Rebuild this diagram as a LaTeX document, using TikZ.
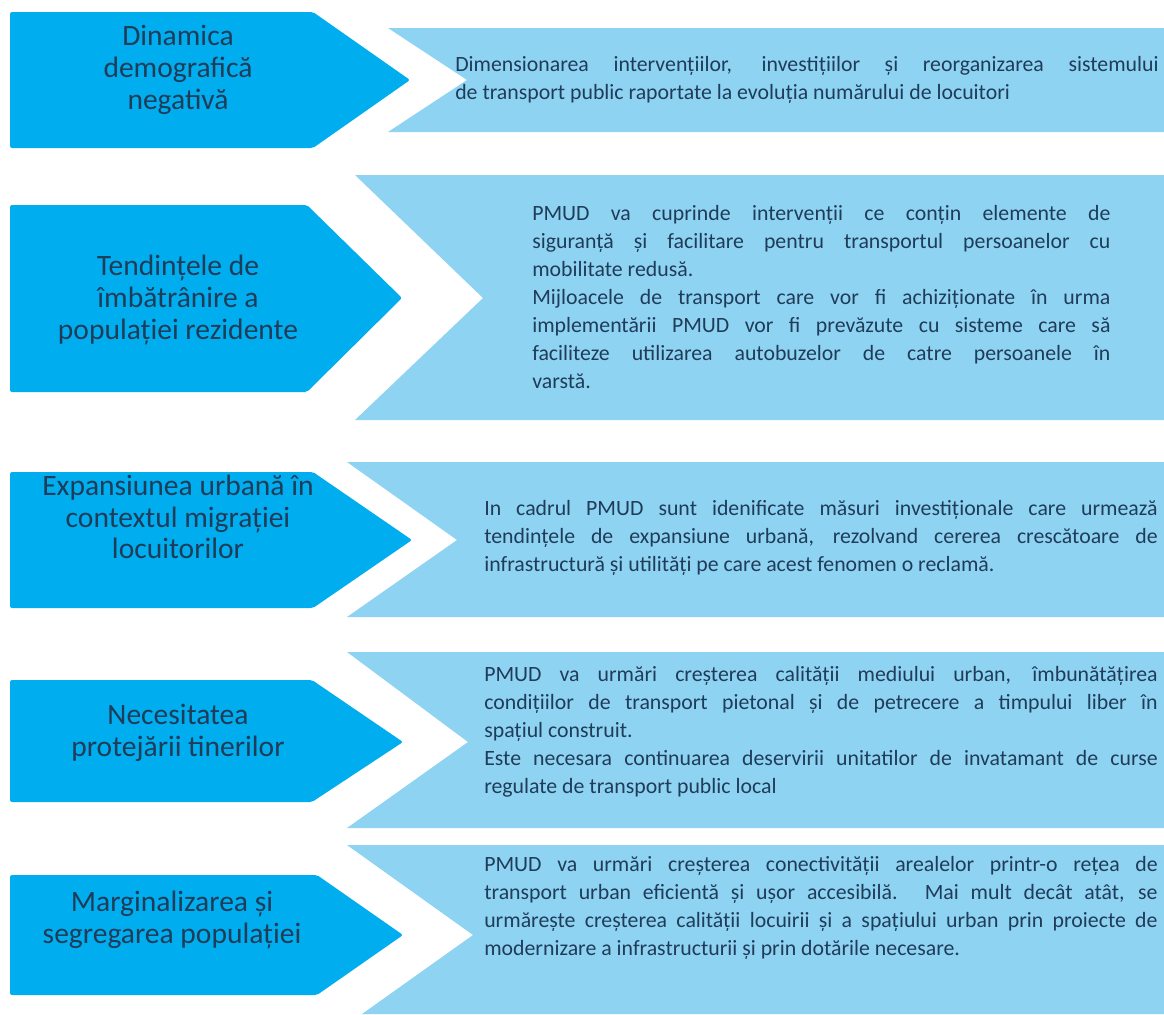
\documentclass[tikz,border=0pt]{standalone}
\usepackage{fontspec}
\setmainfont{Carlito}
\usepackage{tikz}
\definecolor{tipblue}{HTML}{00AEEF}
\definecolor{paneblue}{HTML}{8FD3F3}
\definecolor{ink}{HTML}{1F3C59}
\newcommand\factorfont{\fontsize{21}{22.5}\selectfont}
\newcommand\measurefont{\fontsize{15.5}{19.9}\selectfont}

\begin{document}
\begin{tikzpicture}[x=0.025cm,y=-0.025cm,
    factor/.style={text=ink,align=center,font=\factorfont,inner sep=0pt},
    measure/.style={text=ink,align=justify,anchor=west,inner sep=0pt,font=\measurefont}]
    \useasboundingbox[fill=white] (0,0) rectangle (1164,1014);

    % negative demography
    \fill[tipblue,rounded corners=1.5pt] (10,12) -- (313,12) -- (410,80) -- (313,148) -- (10,148) -- cycle;
    \fill[paneblue] (388,28) -- (1164,28) -- (1164,132) -- (388,132) -- (467,80) -- cycle;
    \path
    (178,70) node[factor] (F1) {Dinamica\\ demografică\\ negativă}
    (455,80) node[measure,text width=17.58cm] (M1) {Dimensionarea intervențiilor, investițiilor și reorganizarea sistemului\linebreak
      de transport public raportate la evoluția numărului de locuitori}
    ;

    % ageing
    \fill[tipblue,rounded corners=1.5pt] (10,205) -- (307,205) -- (402,298) -- (307,392) -- (10,392) -- cycle;
    \fill[paneblue] (355,175) -- (1164,175) -- (1164,420) -- (355,420) -- (483,298) -- cycle;
    \path
    (178,300) node[factor] (F2) {Tendințele de\\ îmbătrânire a\\ populației rezidente}
    (532,297) node[measure,text width=14.45cm] (M2) {PMUD va cuprinde intervenții ce conțin elemente de\linebreak
      siguranță și facilitare pentru transportul persoanelor cu\linebreak
      mobilitate redusă.\\
      Mijloacele de transport care vor fi achiziționate în urma\linebreak
      implementării PMUD vor fi prevăzute cu sisteme care să\linebreak
      faciliteze utilizarea autobuzelor de catre persoanele în\linebreak
      varstă.}
    ;

    % urban sprawl
    \fill[tipblue,rounded corners=1.5pt] (10,472) -- (313,472) -- (412,540) -- (313,608) -- (10,608) -- cycle;
    \fill[paneblue] (347,462) -- (1164,462) -- (1164,617) -- (347,617) -- (457,540) -- cycle;
    \path
    (178,517) node[factor] (F3) {Expansiunea urbană în\\ contextul migrației\\ locuitorilor}
    (484,538) node[measure,text width=16.83cm] (M3) {In cadrul PMUD sunt idenificate măsuri investiționale care urmează\linebreak
      tendințele de expansiune urbană, rezolvand cererea crescătoare de\linebreak
      infrastructură și utilități pe care acest fenomen o reclamă.}
    ;

    % young people
    \fill[tipblue,rounded corners=1.5pt] (10,680) -- (312,680) -- (403,742) -- (312,802) -- (10,802) -- cycle;
    \fill[paneblue] (347,652) -- (1164,652) -- (1164,828) -- (347,828) -- (468,742) -- cycle;
    \path
    (178,733) node[factor] (F4) {Necesitatea\\ protejării tinerilor}
    (484,732) node[measure,text width=16.83cm] (M4) {PMUD va urmări creșterea calității mediului urban, îmbunătățirea\linebreak
      condițiilor de transport pietonal și de petrecere a timpului liber în\linebreak
      spațiul construit.\\
      Este necesara continuarea deservirii unitatilor de invatamant de curse\linebreak
      regulate de transport public local}
    ;

    % marginalisation
    \fill[tipblue,rounded corners=1.5pt] (10,875) -- (317,875) -- (403,935) -- (317,995) -- (10,995) -- cycle;
    \fill[paneblue] (347,845) -- (1164,845) -- (1164,1014) -- (362,1014) -- (473,935) -- cycle;
    \path
    (172,920) node[factor] (F5) {Marginalizarea și\\ segregarea populației}
    (484,908) node[measure,text width=16.83cm] (M5) {PMUD va urmări creșterea conectivității arealelor printr-o rețea de\linebreak
      transport urban eficientă și ușor accesibilă. Mai mult decât atât, se\linebreak
      urmărește creșterea calității locuirii și a spațiului urban prin proiecte de\linebreak
      modernizare a infrastructurii și prin dotările necesare.}
    ;
\end{tikzpicture}
\end{document}
